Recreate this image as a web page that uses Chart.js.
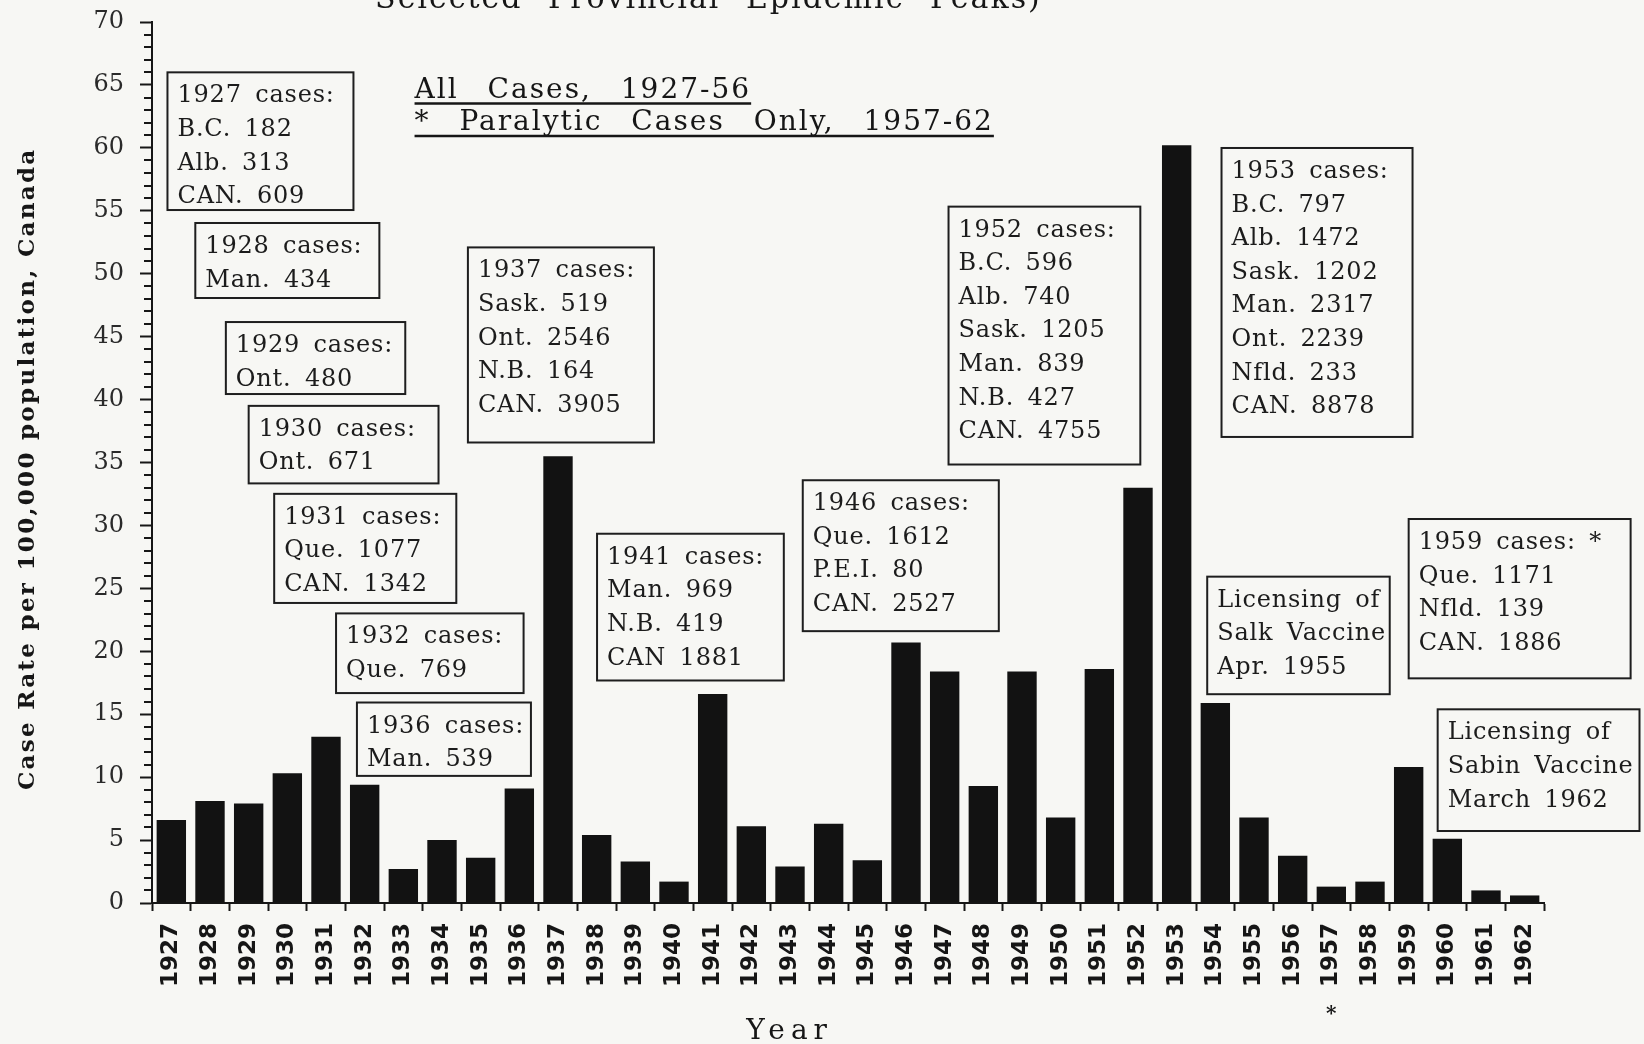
<!DOCTYPE html>
<html>
<head>
<meta charset="utf-8">
<script src="https://cdn.jsdelivr.net/npm/chart.js@4/dist/chart.umd.min.js"></script>
<style>
html, body { margin: 0; padding: 0; background: #f7f7f4; }
#wrap { width: 1644px; height: 1044px; position: relative; }
</style>
</head>
<body>
<div id="wrap"><canvas id="c" width="1644" height="1044"></canvas></div>
<script>
// ---------- DATA ----------
const years = ['1927','1928','1929','1930','1931','1932','1933','1934','1935','1936',
               '1937','1938','1939','1940','1941','1942','1943','1944','1945','1946',
               '1947','1948','1949','1950','1951','1952','1953','1954','1955','1956',
               '1957','1958','1959','1960','1961','1962'];
const caseRates = [6.6, 8.1, 7.9, 10.3, 13.2, 9.4, 2.7, 5.0, 3.6, 9.1,
                   35.5, 5.4, 3.3, 1.7, 16.6, 6.1, 2.9, 6.3, 3.4, 20.7,
                   18.4, 9.3, 18.4, 6.8, 18.6, 33.0, 60.2, 15.9, 6.8, 3.75,
                   1.3, 1.7, 10.8, 5.1, 1.0, 0.6];
const yMin = 0, yMax = 70, yMajorStep = 5, yMinorStep = 1;
const titleText = 'Selected Provincial Epidemic Peaks)';
const yAxisTitle = 'Case Rate per 100,000 population, Canada';
const xAxisTitle = 'Year';
const noteLegend = ['All Cases, 1927-56', '* Paralytic Cases Only, 1957-62'];
const paralyticFromYear = '1957';

// annotation boxes: x in year units, y in case-rate units
const noteBoxes = [
  { x0: 1926.9,  x1: 1931.71, yTop: 66.0,  yBot: 55.06, lines: ['1927 cases:', 'B.C. 182', 'Alb. 313', 'CAN. 609'] },
  { x0: 1927.62, x1: 1932.38, yTop: 54.03, yBot: 48.07, lines: ['1928 cases:', 'Man. 434'] },
  { x0: 1928.41, x1: 1933.05, yTop: 46.16, yBot: 40.44, lines: ['1929 cases:', 'Ont. 480'] },
  { x0: 1929.0,  x1: 1933.91, yTop: 39.50, yBot: 33.34, lines: ['1930 cases:', 'Ont. 671'] },
  { x0: 1929.66, x1: 1934.37, yTop: 32.51, yBot: 23.84, lines: ['1931 cases:', 'Que. 1077', 'CAN. 1342'] },
  { x0: 1931.26, x1: 1936.11, yTop: 23.01, yBot: 16.68, lines: ['1932 cases:', 'Que. 769'] },
  { x0: 1931.80, x1: 1936.30, yTop: 15.93, yBot: 10.10, lines: ['1936 cases:', 'Man. 539'] },
  { x0: 1934.67, x1: 1939.48, yTop: 52.09, yBot: 36.59, lines: ['1937 cases:', 'Sask. 519', 'Ont. 2546', 'N.B. 164', 'CAN. 3905'] },
  { x0: 1938.01, x1: 1942.84, yTop: 29.34, yBot: 17.68, lines: ['1941 cases:', 'Man. 969', 'N.B. 419', 'CAN 1881'] },
  { x0: 1943.33, x1: 1948.40, yTop: 33.59, yBot: 21.60, lines: ['1946 cases:', 'Que. 1612', 'P.E.I. 80', 'CAN. 2527'] },
  { x0: 1947.10, x1: 1952.06, yTop: 55.33, yBot: 34.84, lines: ['1952 cases:', 'B.C. 596', 'Alb. 740', 'Sask. 1205', 'Man. 839', 'N.B. 427', 'CAN. 4755'] },
  { x0: 1954.16, x1: 1959.10, yTop: 59.99, yBot: 37.03, lines: ['1953 cases:', 'B.C. 797', 'Alb. 1472', 'Sask. 1202', 'Man. 2317', 'Ont. 2239', 'Nfld. 233', 'CAN. 8878'] },
  { x0: 1953.79, x1: 1958.51, yTop: 25.93, yBot: 16.59, lines: ['Licensing of', 'Salk Vaccine', 'Apr. 1955'] },
  { x0: 1959.0,  x1: 1964.74, yTop: 30.51, yBot: 17.85, lines: ['1959 cases: *', 'Que. 1171', 'Nfld. 139', 'CAN. 1886'] },
  { x0: 1959.75, x1: 1964.97, yTop: 15.39, yBot: 5.72,  lines: ['Licensing of', 'Sabin Vaccine', 'March 1962'] }
];

// ---------- STYLE ----------
const BG = '#f7f7f4';
const INK = '#161616';
const SERIF = '"DejaVu Serif", serif';

function xAt(chart, yr) {
  const xs = chart.scales.x;
  const p0 = xs.getPixelForValue(0), p1 = xs.getPixelForValue(1);
  return p0 + (yr - Number(years[0])) * (p1 - p0);
}
function yAt(chart, v) { return chart.scales.y.getPixelForValue(v); }

function drawText(ctx, s, x, y, font, o) {
  o = o || {};
  ctx.save();
  ctx.font = font;
  ctx.fillStyle = o.color || INK;
  if ('letterSpacing' in ctx) ctx.letterSpacing = o.ls || '0px';
  if ('wordSpacing' in ctx) ctx.wordSpacing = o.ws || '0px';
  ctx.textAlign = o.align || 'left';
  ctx.textBaseline = o.base || 'alphabetic';
  ctx.fillText(s, x, y);
  const w = ctx.measureText(s).width;
  ctx.restore();
  return w;
}

const decor = {
  id: 'decor',
  beforeDraw(chart) {
    const ctx = chart.ctx;
    ctx.save();
    ctx.fillStyle = BG;
    ctx.fillRect(0, 0, chart.width, chart.height);
    ctx.restore();
  },
  afterDraw(chart) {
    const ctx = chart.ctx;
    const ys = chart.scales.y;
    const axisX = ys.right;
    // minor ticks on y axis
    ctx.save();
    ctx.strokeStyle = INK;
    ctx.lineWidth = 2;
    for (let v = yMin; v <= yMax; v += yMinorStep) {
      if (v % yMajorStep === 0) continue;
      const py = Math.round(yAt(chart, v));
      ctx.beginPath();
      ctx.moveTo(axisX - 8, py);
      ctx.lineTo(axisX, py);
      ctx.stroke();
    }
    ctx.restore();

    // clipped title at top
    drawText(ctx, titleText, xAt(chart, 1940.89), yAt(chart, 71.1), '30px ' + SERIF,
             { align: 'center', ls: '2px', ws: '14px' });

    // y axis title
    ctx.save();
    ctx.translate(ys.left + 28, yAt(chart, 34.5));
    ctx.rotate(-Math.PI / 2);
    drawText(ctx, yAxisTitle, 0, 0, 'bold 23px ' + SERIF, { align: 'center', base: 'middle', ls: '2.3px' });
    ctx.restore();

    // x axis title
    drawText(ctx, xAxisTitle, xAt(chart, 1942.99), yAt(chart, -10.2), '28px ' + SERIF,
             { align: 'center', base: 'middle', ls: '6px' });

    // paralytic marker under 1957
    drawText(ctx, '*', xAt(chart, Number(paralyticFromYear)), yAt(chart, -8.9), 'bold 20px ' + SERIF,
             { align: 'center', base: 'middle' });

    // legend notes with underline
    const lx = xAt(chart, 1933.29);
    [[noteLegend[0], 64.0], [noteLegend[1], 61.42]].forEach(([s, v]) => {
      const by = yAt(chart, v);
      const w = drawText(ctx, s, lx, by, '28px ' + SERIF, { ls: '2px', ws: '18px' });
      ctx.save();
      ctx.strokeStyle = INK;
      ctx.lineWidth = 2.5;
      ctx.beginPath();
      ctx.moveTo(lx, by + 6);
      ctx.lineTo(lx + w, by + 6);
      ctx.stroke();
      ctx.restore();
    });

    // annotation boxes
    noteBoxes.forEach(b => {
      const x0 = xAt(chart, b.x0), x1 = xAt(chart, b.x1);
      const y0 = yAt(chart, b.yTop), y1 = yAt(chart, b.yBot);
      ctx.save();
      ctx.fillStyle = BG;
      ctx.fillRect(x0, y0, x1 - x0, y1 - y0);
      b.lines.forEach((s, i) => {
        drawText(ctx, s, x0 + 10, y0 + 30 + i * 33.6, '24px ' + SERIF, { ls: '0.8px', ws: '5px', color: '#1c1c1c' });
      });
      ctx.strokeStyle = '#1e1e1e';
      ctx.lineWidth = 2;
      ctx.strokeRect(x0, y0, x1 - x0, y1 - y0);
      ctx.restore();
    });
  }
};

new Chart(document.getElementById('c'), {
  type: 'bar',
  data: {
    labels: years,
    datasets: [{
      data: caseRates,
      backgroundColor: '#121212',
      borderWidth: 0,
      barPercentage: 0.76,
      categoryPercentage: 1.0
    }]
  },
  options: {
    responsive: false,
    animation: false,
    events: [],
    layout: { padding: { top: 22, right: 100, left: 0, bottom: 0 } },
    plugins: { legend: { display: false }, tooltip: { enabled: false }, title: { display: false } },
    scales: {
      x: {
        grid: { drawOnChartArea: false, drawTicks: true, tickLength: 8, tickWidth: 2, tickColor: INK },
        border: { display: true, color: INK, width: 2 },
        ticks: {
          autoSkip: false, minRotation: 90, maxRotation: 90, padding: 12,
          color: INK, font: { family: 'DejaVu Sans', size: 23, weight: 'bold' }
        },
        afterFit(scale) { scale.height = 141; scale.paddingTop = 0; scale.paddingBottom = 0; }
      },
      y: {
        min: yMin, max: yMax,
        grid: { drawOnChartArea: false, drawTicks: true, tickLength: 12, tickWidth: 2, tickColor: INK },
        border: { display: true, color: INK, width: 2 },
        ticks: {
          stepSize: yMajorStep, padding: 16, color: '#2a2a2a',
          font: { family: 'DejaVu Serif', size: 24 }
        },
        afterFit(scale) { scale.width = 152; scale.paddingTop = 0; scale.paddingBottom = 0; }
      }
    }
  },
  plugins: [decor]
});
</script>
</body>
</html>
